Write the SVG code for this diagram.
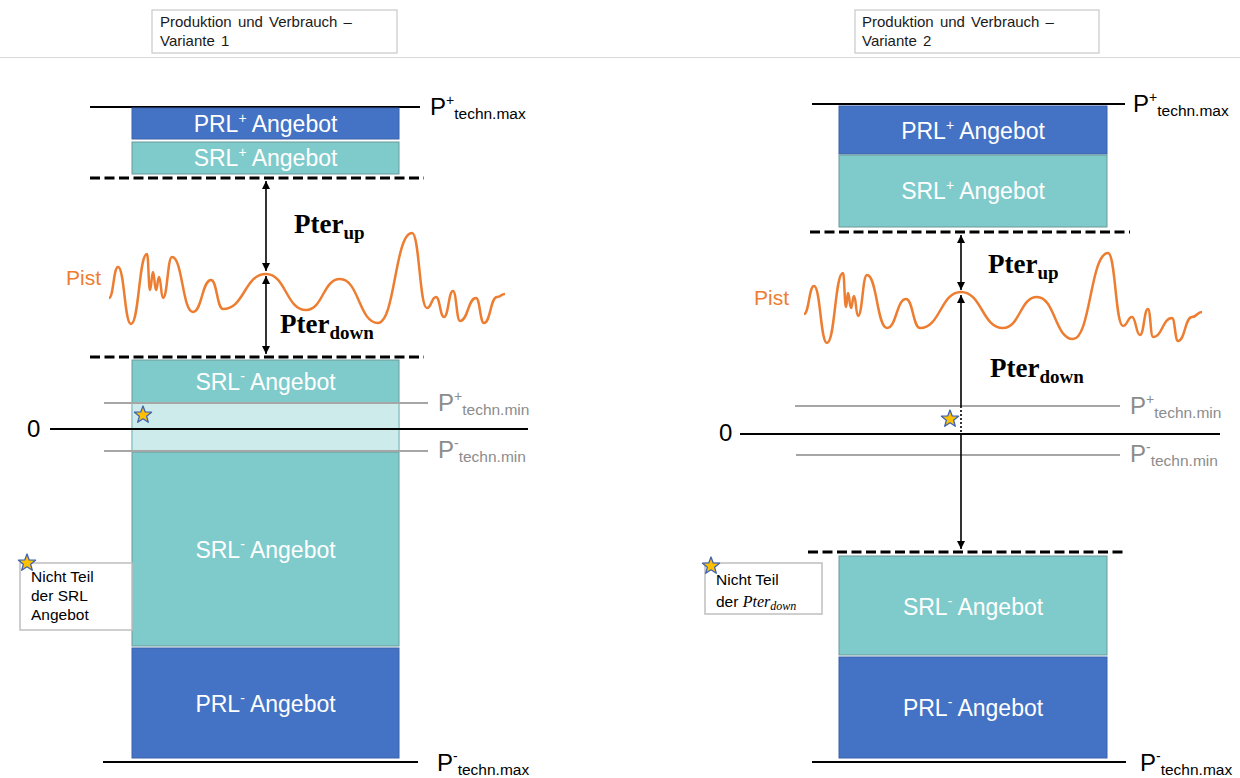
<svg xmlns="http://www.w3.org/2000/svg" xmlns:xlink="http://www.w3.org/1999/xlink" width="1240" height="778" viewBox="0 0 1240 778">
<defs>
<style>
.hdr{fill:#fff;stroke:#c8c8c8;stroke-width:1.2}
.hdrt{font-family:"Liberation Sans",Arial,sans-serif;font-size:15px;word-spacing:2px;fill:#1a1a1a}
.blue{fill:#4472C4;stroke:#3b63ad;stroke-width:1}
.teal{fill:#7FCBCB;stroke:#6b9a9a;stroke-width:1}
.light{fill:#CDEBEB}
.bt{font-family:"Liberation Sans",Arial,sans-serif;font-size:23px;fill:#fff;text-anchor:middle}
.lim{stroke:#000;stroke-width:2}
.dash{stroke:#000;stroke-width:3;stroke-dasharray:10 4.5}
.grey{stroke:#a6a6a6;stroke-width:2}
.pl{font-family:"Liberation Sans",Arial,sans-serif;font-size:24px;fill:#000}
.plg{font-family:"Liberation Sans",Arial,sans-serif;font-size:24px;fill:#8c8c8c}
.sup{font-size:14px}
.sub{font-size:15.5px}
.pter{font-family:"Liberation Serif","Times New Roman",serif;font-size:27px;font-weight:bold;fill:#000}
.pist{font-family:"Liberation Sans",Arial,sans-serif;font-size:21px;fill:#ED7D31}
.wave{fill:none;stroke:#ED7D31;stroke-width:2.5;stroke-linejoin:round}
.arr{stroke:#000;stroke-width:1.6;fill:none}
.note{fill:#fff;stroke:#bfbfbf;stroke-width:1.5}
.nt{font-family:"Liberation Sans",Arial,sans-serif;font-size:15.5px;fill:#000}
.star{fill:#FFC000;stroke:#3F63B0;stroke-width:1.3;stroke-linejoin:round}
</style>
<marker id="ah" viewBox="0 0 10 10" refX="10" refY="5" markerWidth="5" markerHeight="5" orient="auto-start-reverse" markerUnits="strokeWidth">
<path d="M0,0 L10,5 L0,10 z" fill="#000"/>
</marker>
<path id="star" class="star" d="M0,-9 L2.23,-3.07 L8.56,-2.78 L3.61,1.17 L5.29,7.28 L0,3.8 L-5.29,7.28 L-3.61,1.17 L-8.56,-2.78 L-2.23,-3.07 Z"/>
</defs>
<rect width="1240" height="778" fill="#fff"/>
<line x1="0" y1="57.5" x2="1240" y2="57.5" stroke="#d9d9d9" stroke-width="1.2"/>

<!-- Headers -->
<g id="header1">
<rect class="hdr" x="152" y="10" width="245" height="43"/>
<text class="hdrt" x="160" y="27">Produktion und Verbrauch –</text>
<text class="hdrt" x="160" y="46">Variante 1</text>
</g>
<g id="header2">
<rect class="hdr" x="855" y="10" width="244" height="43"/>
<text class="hdrt" x="862" y="27">Produktion und Verbrauch –</text>
<text class="hdrt" x="862" y="46">Variante 2</text>
</g>

<!-- ===== Variant 1 ===== -->
<g id="v1-limits">
<line class="lim" x1="90" y1="107" x2="420" y2="107"/>
<text class="pl" x="430" y="115">P<tspan class="sup" dy="-10">+</tspan><tspan class="sub" dy="14">techn.max</tspan></text>
<line class="dash" x1="90" y1="178" x2="424" y2="178"/>
<line class="dash" x1="90" y1="357" x2="424" y2="357"/>
<line class="lim" x1="103" y1="762" x2="418" y2="762"/>
<text class="pl" x="437" y="771">P<tspan class="sup" dy="-10">-</tspan><tspan class="sub" dy="14">techn.max</tspan></text>
</g>

<g id="v1-prl-plus">
<rect class="blue" x="132" y="108" width="267" height="31"/>
<text class="bt" x="265.5" y="132">PRL<tspan font-size="14" dy="-9">+</tspan><tspan dy="9"> Angebot</tspan></text>
</g>
<g id="v1-srl-plus">
<rect class="teal" x="132" y="142" width="267" height="32"/>
<text class="bt" x="265.5" y="166">SRL<tspan font-size="14" dy="-9">+</tspan><tspan dy="9"> Angebot</tspan></text>
</g>
<g id="v1-srl-minus-top">
<rect class="teal" x="132" y="360" width="267" height="91"/>
<rect class="light" x="132.5" y="404" width="266" height="46"/>
<text class="bt" x="265.5" y="390">SRL<tspan font-size="14" dy="-9">-</tspan><tspan dy="9"> Angebot</tspan></text>
</g>
<g id="v1-srl-minus">
<rect class="teal" x="132" y="452" width="267" height="194"/>
<text class="bt" x="265.5" y="558">SRL<tspan font-size="14" dy="-9">-</tspan><tspan dy="9"> Angebot</tspan></text>
</g>
<g id="v1-prl-minus">
<rect class="blue" x="132" y="648" width="267" height="110"/>
<text class="bt" x="265.5" y="712">PRL<tspan font-size="14" dy="-9">-</tspan><tspan dy="9"> Angebot</tspan></text>
</g>

<g id="v1-zero">
<line class="grey" x1="104" y1="403" x2="428" y2="403"/>
<text class="plg" x="438" y="411">P<tspan class="sup" dy="-10">+</tspan><tspan class="sub" dy="14">techn.min</tspan></text>
<line class="lim" x1="50" y1="429" x2="528" y2="429"/>
<text class="pl" x="27" y="437" font-size="22">0</text>
<line class="grey" x1="104" y1="451" x2="428" y2="451"/>
<text class="plg" x="438" y="458">P<tspan class="sup" dy="-10">-</tspan><tspan class="sub" dy="14">techn.min</tspan></text>
<use xlink:href="#star" x="143" y="415"/>
</g>

<g id="v1-pist">
<text class="pist" x="66" y="285">Pist</text>
<path class="wave" d="M109,298 C113.5,298 113.5,267 118,267 C124.5,267 124.5,324 131,324 C139,324 139,254 147,254 C148.5,254 148.5,290 150,290 C151.5,290 151.5,272 153,272 C154.5,272 154.5,290 156,290 C157.5,290 157.5,277 159,277 C161,277 161,298 163,298 C167.5,298 167.5,257 172,257 C182.5,257 182.5,312 193,312 C202,312 202,280 211,280 C217,280 217,309 223,309 C244.5,309 244.5,274 266,274 C286,274 286,310 306,310 C323,310 323,279 340,279 C359,279 359,323 378,323 C395,323 395,233 412,233 C419.5,233 419.5,308 427,308 C431.5,308 431.5,297 436,297 C440,297 440,317 444,317 C448.5,317 448.5,291 453,291 C456.5,291 456.5,321 460,321 C468,321 468,298 476,298 C480,298 480,323 484,323 C490.5,323 490.5,297 497,297 C501,297 501,294 505,294"/>
</g>

<g id="v1-note">
<rect class="note" x="20" y="563" width="112" height="67"/>
<text class="nt" x="31" y="582">Nicht Teil</text>
<text class="nt" x="31" y="601">der SRL</text>
<text class="nt" x="31" y="620">Angebot</text>
<use xlink:href="#star" x="27" y="563"/>
</g>

<g id="v1-connectors">
<line class="arr" x1="266" y1="181" x2="266" y2="271" marker-start="url(#ah)" marker-end="url(#ah)"/>
<line class="arr" x1="266" y1="276" x2="266" y2="354" marker-start="url(#ah)" marker-end="url(#ah)"/>
</g>
<text class="pter" x="294" y="233">Pter<tspan font-size="19" dy="6">up</tspan></text>
<text class="pter" x="280" y="333">Pter<tspan font-size="19" dy="6">down</tspan></text>

<!-- ===== Variant 2 ===== -->
<g id="v2-limits">
<line class="lim" x1="812" y1="104" x2="1125" y2="104"/>
<text class="pl" x="1133" y="112">P<tspan class="sup" dy="-10">+</tspan><tspan class="sub" dy="14">techn.max</tspan></text>
<line class="dash" x1="810" y1="232" x2="1130" y2="232"/>
<line class="dash" x1="808" y1="552" x2="1127" y2="552"/>
<line class="lim" x1="812" y1="762" x2="1126" y2="762"/>
<text class="pl" x="1140" y="771">P<tspan class="sup" dy="-10">-</tspan><tspan class="sub" dy="14">techn.max</tspan></text>
</g>

<g id="v2-prl-plus">
<rect class="blue" x="839" y="106" width="268" height="48"/>
<text class="bt" x="973" y="139">PRL<tspan font-size="14" dy="-9">+</tspan><tspan dy="9"> Angebot</tspan></text>
</g>
<g id="v2-srl-plus">
<rect class="teal" x="839" y="155" width="268" height="72"/>
<text class="bt" x="973" y="199">SRL<tspan font-size="14" dy="-9">+</tspan><tspan dy="9"> Angebot</tspan></text>
</g>
<g id="v2-srl-minus">
<rect class="teal" x="839" y="556" width="268" height="99"/>
<text class="bt" x="973" y="615">SRL<tspan font-size="14" dy="-9">-</tspan><tspan dy="9"> Angebot</tspan></text>
</g>
<g id="v2-prl-minus">
<rect class="blue" x="839" y="657" width="268" height="101"/>
<text class="bt" x="973" y="716">PRL<tspan font-size="14" dy="-9">-</tspan><tspan dy="9"> Angebot</tspan></text>
</g>

<g id="v2-zero">
<line class="grey" x1="795" y1="406" x2="1120" y2="406"/>
<text class="plg" x="1130" y="414">P<tspan class="sup" dy="-10">+</tspan><tspan class="sub" dy="14">techn.min</tspan></text>
<line class="lim" x1="740" y1="434" x2="1220" y2="434"/>
<text class="pl" x="719" y="441" font-size="22">0</text>
<line class="grey" x1="796" y1="455" x2="1120" y2="455"/>
<text class="plg" x="1130" y="462">P<tspan class="sup" dy="-10">-</tspan><tspan class="sub" dy="14">techn.min</tspan></text>
<use xlink:href="#star" x="950" y="419"/>
</g>

<g id="v2-pist">
<text class="pist" x="754" y="305">Pist</text>
<path class="wave" d="M804,314 C809,314 809,286 814,286 C820.5,286 820.5,343 827,343 C835,343 835,273 843,273 C844.5,273 844.5,307 846,307 C847,307 847,293 848,293 C849.5,293 849.5,308 851,308 C852.5,308 852.5,296 854,296 C856,296 856,316 858,316 C862.5,316 862.5,275 867,275 C877,275 877,328 887,328 C896.5,328 896.5,299 906,299 C913,299 913,328 920,328 C940.5,328 940.5,292 961,292 C982,292 982,328 1003,328 C1020,328 1020,297 1037,297 C1055,297 1055,339 1073,339 C1090.5,339 1090.5,253 1108,253 C1115.5,253 1115.5,326 1123,326 C1127.5,326 1127.5,317 1132,317 C1136,317 1136,335 1140,335 C1144,335 1144,309 1148,309 C1150.5,309 1150.5,337 1153,337 C1162.5,337 1162.5,318 1172,318 C1175,318 1175,341 1178,341 C1185,341 1185,317 1192,317 C1197,317 1197,312 1202,312"/>
</g>

<g id="v2-note">
<rect class="note" x="705" y="563" width="117" height="51"/>
<text class="nt" x="716" y="585">Nicht Teil</text>
<text class="nt" x="716" y="607">der <tspan font-family="'Liberation Serif','Times New Roman',serif" font-style="italic" font-size="16">Pter</tspan><tspan font-family="'Liberation Serif','Times New Roman',serif" font-style="italic" font-size="12" dy="3">down</tspan></text>
<use xlink:href="#star" x="711" y="566"/>
</g>

<g id="v2-connectors">
<line class="arr" x1="961" y1="235" x2="961" y2="290" marker-start="url(#ah)" marker-end="url(#ah)"/>
<line class="arr" x1="961" y1="295" x2="961" y2="406" marker-start="url(#ah)"/>
<line class="arr" x1="961" y1="406" x2="961" y2="434" stroke-dasharray="2 2"/>
<line class="arr" x1="961" y1="434" x2="961" y2="549" marker-end="url(#ah)"/>
</g>
<text class="pter" x="988" y="273">Pter<tspan font-size="19" dy="6">up</tspan></text>
<text class="pter" x="990" y="377">Pter<tspan font-size="19" dy="6">down</tspan></text>
</svg>
